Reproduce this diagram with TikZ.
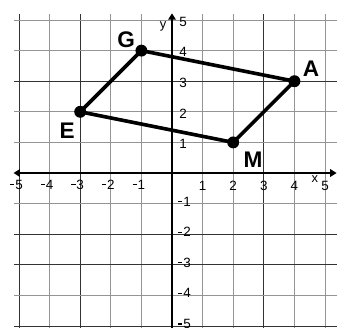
\documentclass[tikz,border=0pt]{standalone}
\usepackage{fontspec}
\setmainfont{Liberation Sans}
\usetikzlibrary{arrows.meta}
\newcommand{\mn}{\raisebox{0.55ex}{\rule{0.32em}{0.1em}}\hspace{0.06em}}
\tikzset{
  gridgray/.style={draw=black!42, line width=0.8pt},
  griddark/.style={draw=black!80, line width=0.8pt},
  axisline/.style={line width=2.6pt, -{Triangle[length=6pt,width=7pt]}},
  quadline/.style={line width=3.4pt, line join=round},
  vertex/.style={circle, fill=black, inner sep=0pt, minimum size=0.39cm},
  ptlabel/.style={font=\fontsize{21}{23}\selectfont\bfseries, inner sep=0pt},
  ticklab/.style={font=\fontsize{12.5}{14}\selectfont, inner sep=0pt},
  axlab/.style={font=\fontsize{12}{13}\selectfont, inner sep=0pt}
}
\begin{document}
\begin{tikzpicture}
\useasboundingbox (-5.621,-5.033) rectangle (5.621,5.654);
\fill[white] (-5.621,-5.033) rectangle (5.621,5.654);
% grid
\foreach \x in {-4,-2,-1,1,2,4,5} \draw[gridgray] (\x,-5.1) -- (\x,5.196);
\foreach \x in {-5,-3,3} \draw[griddark] (\x,-5.1) -- (\x,5.196);
\foreach \y in {-4,-1,1,2,4,5} \draw[gridgray] (-5.163,\y) -- (5.39,\y);
\foreach \y in {-5,-3,-2,3} \draw[griddark] (-5.163,\y) -- (5.39,\y);
% axes
\coordinate (O) at (0,0);
\coordinate (xl) at (-5.18,0);
\coordinate (xr) at (5.38,0);
\coordinate (yb) at (0,-5.1);
\coordinate (yt) at (0,5.22);
\draw[axisline] (O) -- (xr);
\draw[axisline] (O) -- (xl);
\draw[axisline] (yb) -- (yt);
\node[axlab] (xlab) at (4.67,-0.2) {x};
\node[axlab] (ylab) at (-0.29,4.8) {y};
% tick labels
\foreach \x in {1,...,5} \node[ticklab] (tx\x) at (\x,-0.42) {\x};
\foreach \x in {1,...,5} \node[ticklab] (txn\x) at (-\x,-0.38) {\llap{\mn}\x};
\foreach \y in {1,...,5} \node[ticklab] (ty\y) at (0.36,\y-0.05) {\y};
\foreach \y in {1,...,5} \node[ticklab] (tyn\y) at (0.49,-\y+0.07) {\llap{\mn}\y};
% polygon
\coordinate (G) at (-1,4);
\coordinate (A) at (4,3);
\coordinate (M) at (2,1);
\coordinate (E) at (-3,2);
\draw[quadline] (G) -- (A) -- (M) -- (E) -- cycle;
\node[vertex] (Gd) at (G) {};
\node[vertex] (Ad) at (A) {};
\node[vertex] (Md) at (M) {};
\node[vertex] (Ed) at (E) {};
\node[ptlabel] (Gl) at (-1.50,4.36) {G};
\node[ptlabel] (Al) at (4.54,3.40) {A};
\node[ptlabel] (El) at (-3.43,1.37) {E};
\node[ptlabel] (Ml) at (2.65,0.42) {M};
\end{tikzpicture}
\end{document}
